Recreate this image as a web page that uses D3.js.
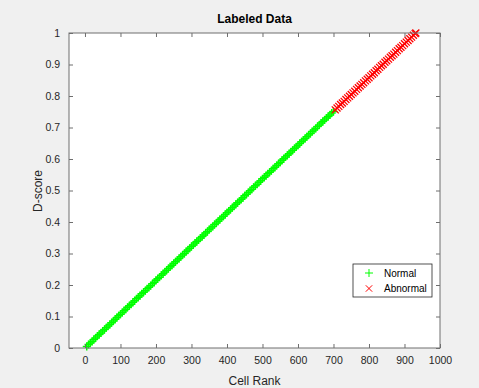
<!DOCTYPE html>
<html>
<head>
<meta charset="utf-8">
<script src="https://cdn.jsdelivr.net/npm/d3@7"></script>
<style>
  body { margin: 0; background: #f0f0f0; }
  svg { display: block; font-family: "Liberation Sans", Arial, sans-serif; }
</style>
</head>
<body>
<div id="chart"></div>
<script>
// ─── Data ─────────────────────────────────────────────────────────────────────
const normalRank = [5,10,15,20,25,30,35,40,45,50,55,60,65,70,75,80,85,90,95,100,
  105,110,115,120,125,130,135,140,145,150,155,160,165,170,175,180,185,190,195,200,
  205,210,215,220,225,230,235,240,245,250,255,260,265,270,275,280,285,290,295,300,
  305,310,315,320,325,330,335,340,345,350,355,360,365,370,375,380,385,390,395,400,
  405,410,415,420,425,430,435,440,445,450,455,460,465,470,475,480,485,490,495,500,
  505,510,515,520,525,530,535,540,545,550,555,560,565,570,575,580,585,590,595,600,
  605,610,615,620,625,630,635,640,645,650,655,660,665,670,675,680,685,690,695,700];
const normalScore = [0.005,0.011,0.016,0.021,0.027,0.032,0.038,0.043,0.048,0.054,
  0.059,0.064,0.070,0.075,0.080,0.086,0.091,0.097,0.102,0.107,
  0.113,0.118,0.123,0.129,0.134,0.139,0.145,0.150,0.156,0.161,
  0.166,0.172,0.177,0.182,0.188,0.193,0.198,0.204,0.209,0.215,
  0.220,0.225,0.231,0.236,0.241,0.247,0.252,0.258,0.263,0.268,
  0.274,0.279,0.284,0.290,0.295,0.300,0.306,0.311,0.317,0.322,
  0.327,0.333,0.338,0.343,0.349,0.354,0.359,0.365,0.370,0.376,
  0.381,0.386,0.392,0.397,0.402,0.408,0.413,0.418,0.424,0.429,
  0.435,0.440,0.445,0.451,0.456,0.461,0.467,0.472,0.477,0.483,
  0.488,0.494,0.499,0.504,0.510,0.515,0.520,0.526,0.531,0.537,
  0.542,0.547,0.553,0.558,0.563,0.569,0.574,0.579,0.585,0.590,
  0.596,0.601,0.606,0.612,0.617,0.622,0.628,0.633,0.638,0.644,
  0.649,0.655,0.660,0.665,0.671,0.676,0.681,0.687,0.692,0.697,
  0.703,0.708,0.714,0.719,0.724,0.730,0.735,0.740,0.746,0.751];
const abnormalRank = [705,710,715,720,725,730,735,740,745,750,755,760,765,770,775,780,
  785,790,795,800,805,810,815,820,825,830,835,840,845,850,855,860,865,870,875,880,
  885,890,895,900,905,910,915,920,925,930,932];
const abnormalScore = [0.756,0.762,0.767,0.773,0.778,0.783,0.789,0.794,0.799,0.805,
  0.810,0.815,0.821,0.826,0.832,0.837,0.842,0.848,0.853,0.858,
  0.864,0.869,0.874,0.880,0.885,0.891,0.896,0.901,0.907,0.912,
  0.917,0.923,0.928,0.933,0.939,0.944,0.950,0.955,0.960,0.966,
  0.971,0.976,0.982,0.987,0.993,0.998,1.000];

const xTicks = [0,100,200,300,400,500,600,700,800,900,1000];
const yTicks = [0,0.1,0.2,0.3,0.4,0.5,0.6,0.7,0.8,0.9,1];

// ─── Layout ───────────────────────────────────────────────────────────────────
const W = 479, H = 388;
const margin = { top: 33, right: 39, bottom: 40, left: 69 };
const w = W - margin.left - margin.right;
const h = H - margin.top - margin.bottom;

const svg = d3.select("#chart").append("svg").attr("width", W).attr("height", H);
svg.append("rect").attr("width", W).attr("height", H).attr("fill", "#f0f0f0");

const x = d3.scaleLinear().domain([-45, 1000]).range([0, w]);
const y = d3.scaleLinear().domain([0, 1]).range([h, 0]);

const g = svg.append("g").attr("transform", `translate(${margin.left},${margin.top})`);
g.append("rect").attr("width", w).attr("height", h).attr("fill", "#fff");

// points
const plus = (s) => `M${-s},0H${s}M0,${-s}V${s}`;
const cross = (s) => `M${-s},${-s}L${s},${s}M${-s},${s}L${s},${-s}`;

g.append("g").selectAll("path").data(normalRank.map((r, i) => [r, normalScore[i]]))
  .join("path")
  .attr("transform", (d) => `translate(${x(d[0])},${y(d[1])})`)
  .attr("d", plus(4)).attr("stroke", "#00ff00").attr("stroke-width", 1.5).attr("fill", "none");

g.append("g").selectAll("path").data(abnormalRank.map((r, i) => [r, abnormalScore[i]]))
  .join("path")
  .attr("transform", (d) => `translate(${x(d[0])},${y(d[1])})`)
  .attr("d", cross(3.5)).attr("stroke", "#ff0000").attr("stroke-width", 1.3).attr("fill", "none");

// axes (ticks inside, box on)
const axisColor = "#6e6e6e";
const styleAxis = (sel, showLabels) => {
  sel.select(".domain").remove();
  sel.selectAll(".tick line").attr("stroke", axisColor);
  sel.selectAll(".tick text").attr("fill", "#262626").attr("font-size", 10.5)
    .style("display", showLabels ? null : "none");
};

g.append("g").attr("transform", `translate(0,${h})`)
  .call(d3.axisBottom(x).tickValues(xTicks).tickSizeInner(-4).tickPadding(9).tickFormat(d3.format("d")))
  .call((s) => styleAxis(s, true));
g.append("g")
  .call(d3.axisTop(x).tickValues(xTicks).tickSizeInner(-4))
  .call((s) => styleAxis(s, false));
g.append("g")
  .call(d3.axisLeft(y).tickValues(yTicks).tickSizeInner(-4).tickPadding(9).tickFormat((d) => d === 0 || d === 1 ? d : d3.format(".1f")(d)))
  .call((s) => styleAxis(s, true));
g.append("g").attr("transform", `translate(${w},0)`)
  .call(d3.axisRight(y).tickValues(yTicks).tickSizeInner(-4))
  .call((s) => styleAxis(s, false));

g.append("rect").attr("width", w).attr("height", h)
  .attr("fill", "none").attr("stroke", axisColor).attr("stroke-width", 1);

// labels
svg.append("text").attr("x", margin.left + w / 2).attr("y", 23)
  .attr("text-anchor", "middle").attr("font-size", 12).attr("font-weight", "bold")
  .attr("fill", "#000").text("Labeled Data");
svg.append("text").attr("x", margin.left + w / 2).attr("y", 385)
  .attr("text-anchor", "middle").attr("font-size", 12).attr("fill", "#262626").text("Cell Rank");
svg.append("text").attr("transform", `translate(42,191) rotate(-90)`)
  .attr("text-anchor", "middle").attr("font-size", 12).attr("fill", "#262626").text("D-score");

// legend
const legend = svg.append("g").attr("transform", "translate(353,264)");
legend.append("rect").attr("width", 79).attr("height", 33)
  .attr("fill", "#fff").attr("stroke", "#262626").attr("stroke-width", 0.8);
const items = [
  { label: "Normal", color: "#00ff00", shape: plus(4) },
  { label: "Abnormal", color: "#ff0000", shape: cross(3.2) },
];
items.forEach((it, i) => {
  const yy = 9 + i * 15.5;
  legend.append("path").attr("transform", `translate(16,${yy})`).attr("d", it.shape)
    .attr("stroke", it.color).attr("stroke-width", 1).attr("fill", "none");
  legend.append("text").attr("x", 31).attr("y", yy + 3.5).attr("font-size", 10)
    .attr("fill", "#000").text(it.label);
});
</script>
</body>
</html>
